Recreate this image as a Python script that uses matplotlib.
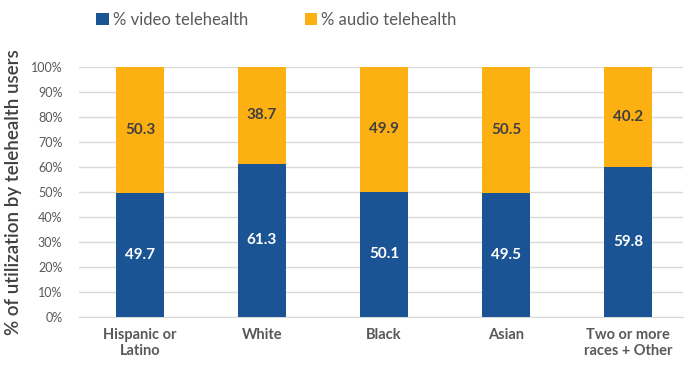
import numpy as np
import matplotlib.pyplot as plt
from matplotlib.ticker import PercentFormatter

groups = ['Hispanic or\nLatino', 'White', 'Black', 'Asian', 'Two or more\nraces + Other']
video = [49.7, 61.3, 50.1, 49.5, 59.8]
audio = [50.3, 38.7, 49.9, 50.5, 40.2]

blue = '#1B5494'
orange = '#FDB012'
gray = '#595959'

plt.rcParams['font.family'] = ['Lato', 'DejaVu Sans']

fig = plt.figure(figsize=(6.87, 3.65), dpi=100)
ax = fig.add_axes([0.115, 0.1315, 0.879, 0.685])

x = np.arange(len(groups))
b1 = ax.bar(x, video, width=0.4, color=blue, label='% video telehealth', zorder=3)
b2 = ax.bar(x, audio, width=0.4, bottom=video, color=orange, label='% audio telehealth', zorder=3)

for i in range(len(x)):
    ax.text(x[i], video[i] / 2, f'{video[i]:.1f}', ha='center', va='center',
            color='white', fontsize=11, fontweight='bold', zorder=4)
    ax.text(x[i], video[i] + audio[i] / 2, f'{audio[i]:.1f}', ha='center', va='center',
            color='#404040', fontsize=11, fontweight='bold', zorder=4)

ax.set_xlim(-0.5, 4.45)
ax.set_ylim(0, 100)
ax.set_yticks(np.arange(0, 101, 10))
ax.yaxis.set_major_formatter(PercentFormatter(decimals=0))
ax.grid(axis='y', color='#D9D9D9', linewidth=1, zorder=0)
ax.set_xticks(x)
ax.set_xticklabels(groups, fontsize=10.5, fontweight='bold', color=gray)
ax.tick_params(axis='y', labelsize=9, colors=gray, length=0, pad=12)
ax.tick_params(axis='x', length=0, pad=8)
for s in ['top', 'right', 'left']:
    ax.spines[s].set_visible(False)
ax.spines['bottom'].set_color('#D9D9D9')

ax.set_ylabel('% of utilization by telehealth users', fontsize=13.5, color='#404040',
              fontweight='semibold', labelpad=6)

fig.legend(handles=[b1, b2], loc='center left', bbox_to_anchor=(0.118, 0.945), ncol=2,
           frameon=False, fontsize=12, handlelength=0.75, handleheight=0.75,
           handletextpad=0.25, columnspacing=3.4, labelcolor=gray)

fig.savefig('out.png', dpi=100)
